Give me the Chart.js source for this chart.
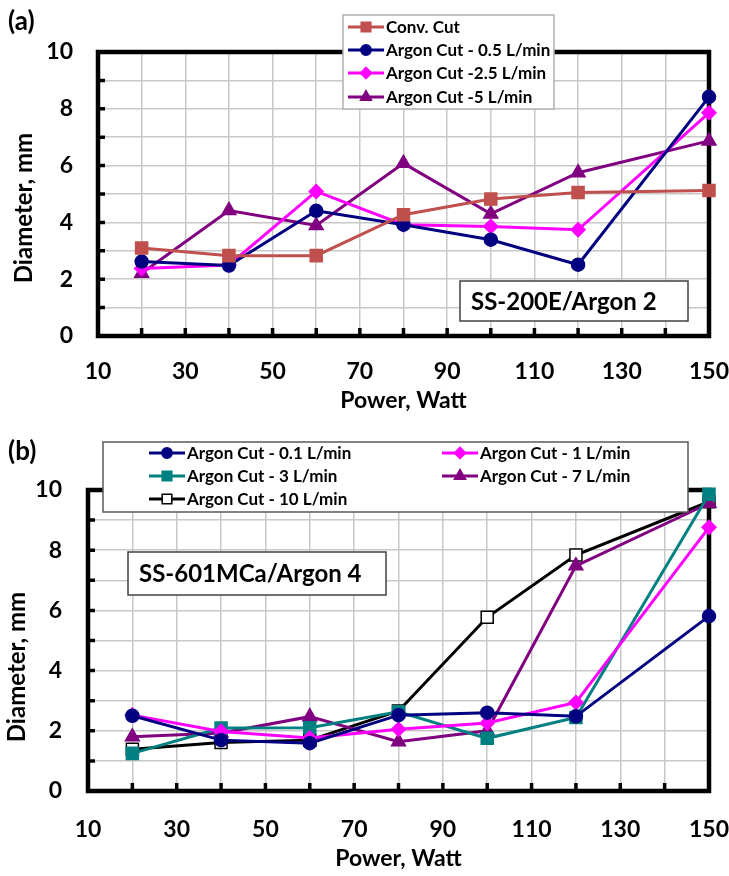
<!DOCTYPE html>
<html>
<head>
<meta charset="utf-8">
<script src="https://cdn.jsdelivr.net/npm/chart.js@4.4.1/dist/chart.umd.min.js"></script>
<style>
  body { margin: 0; background: #fff; }
  .wrap { position: absolute; left: 0; width: 729px; }
  #wrapA { top: 0; height: 420px; }
  #wrapB { top: 420px; height: 456px; }
</style>
</head>
<body>
<div class="wrap" id="wrapA"><canvas id="chartA" width="729" height="420"></canvas></div>
<div class="wrap" id="wrapB"><canvas id="chartB" width="729" height="456"></canvas></div>
<script>
// power levels (Watt)
const powerA = [20, 40, 60, 80, 100, 120, 150];
const powerB = [20, 40, 60, 80, 100, 120, 150];

// (a) SS-200E / Argon 2 - diameter in mm
const convCut  = [3.10, 2.83, 2.83, 4.27, 4.82, 5.05, 5.12];
const argon05  = [2.62, 2.48, 4.41, 3.92, 3.39, 2.51, 8.42];
const argon25  = [2.38, 2.50, 5.09, 3.92, 3.86, 3.74, 7.86];
const argon5   = [2.21, 4.42, 3.89, 6.08, 4.30, 5.75, 6.87];

// (b) SS-601MCa / Argon 4 - diameter in mm
const argon01  = [2.50, 1.69, 1.59, 2.52, 2.60, 2.48, 5.81];
const argon1   = [2.52, 1.98, 1.76, 2.05, 2.26, 2.94, 8.76];
const argon3   = [1.25, 2.09, 2.10, 2.63, 1.75, 2.44, 9.86];
const argon7   = [1.80, 1.93, 2.47, 1.64, 2.00, 7.48, 9.56];
const argon10  = [1.39, 1.61, 1.69, 2.66, 5.77, 7.84, 9.61];

const xTickLabels = [10, 30, 50, 70, 90, 110, 130, 150];
const yTickLabels = [0, 2, 4, 6, 8, 10];

const FONT = 'Lato, "Open Sans", sans-serif';

function pts(xs, ys) {
    return xs.map((x, i) => ({ x: x, y: ys[i] }));
}

function series(label, xs, ys, color, style, radius, fill) {
    return {
        label: label,
        data: pts(xs, ys),
        borderColor: color,
        backgroundColor: color,
        borderWidth: 3,
        pointStyle: style,
        pointRadius: radius,
        pointBackgroundColor: fill || color,
        pointBorderColor: color,
        pointBorderWidth: 1.5,
        tension: 0,
        clip: false
    };
}

// small marker drawer for the hand-placed legend
function drawMarker(ctx, ds, x, y, k) {
    const r = ds.pointRadius * k;
    ctx.save();
    ctx.fillStyle = ds.pointBackgroundColor;
    ctx.strokeStyle = ds.pointBorderColor;
    ctx.lineWidth = 1.5;
    ctx.beginPath();
    if (ds.pointStyle === 'rect') {
        const s = r * Math.SQRT1_2;
        ctx.rect(x - s, y - s, 2 * s, 2 * s);
    } else if (ds.pointStyle === 'rectRot') {
        ctx.moveTo(x, y - r); ctx.lineTo(x + r, y); ctx.lineTo(x, y + r); ctx.lineTo(x - r, y); ctx.closePath();
    } else if (ds.pointStyle === 'triangle') {
        ctx.moveTo(x, y - r); ctx.lineTo(x + r * 0.866, y + r * 0.5); ctx.lineTo(x - r * 0.866, y + r * 0.5); ctx.closePath();
    } else {
        ctx.arc(x, y, r, 0, Math.PI * 2);
    }
    ctx.fill();
    ctx.stroke();
    ctx.restore();
}

function makeDecor(cfg) {
    return {
        id: 'decor',
        beforeDatasetsDraw(chart) {
            const ctx = chart.ctx, a = chart.chartArea;
            const xs = chart.scales.x, ys = chart.scales.y;
            ctx.save();
            ctx.strokeStyle = '#000';
            ctx.lineWidth = 3.5;
            ctx.beginPath();
            for (let v = 20; v < 150; v += 10) {
                const px = xs.getPixelForValue(v);
                ctx.moveTo(px, a.bottom); ctx.lineTo(px, a.bottom - 8);
            }
            for (let v = 1; v < 10; v++) {
                const py = ys.getPixelForValue(v);
                ctx.moveTo(a.left, py); ctx.lineTo(a.left + 7, py);
            }
            ctx.stroke();
            ctx.lineWidth = 4.5;
            ctx.strokeRect(a.left, a.top, a.right - a.left, a.bottom - a.top);
            ctx.restore();
        },
        afterDatasetsDraw(chart) {
            const ctx = chart.ctx;
            const dsets = chart.data.datasets;
            ctx.save();
            // legend box
            const L = cfg.legend;
            ctx.fillStyle = '#fff';
            ctx.fillRect(L.x, L.y, L.w, L.h);
            ctx.strokeStyle = L.border;
            ctx.lineWidth = 1.5;
            ctx.strokeRect(L.x, L.y, L.w, L.h);
            ctx.font = L.font;
            ctx.textBaseline = 'middle';
            ctx.textAlign = 'left';
            L.items.forEach(it => {
                const ds = dsets[it.i];
                ctx.strokeStyle = ds.borderColor;
                ctx.lineWidth = 3;
                ctx.beginPath();
                ctx.moveTo(it.x, it.y); ctx.lineTo(it.x + 36, it.y);
                ctx.stroke();
                drawMarker(ctx, ds, it.x + 18, it.y, 0.8);
                ctx.fillStyle = '#000';
                ctx.fillText(ds.label, it.x + 38, it.y + 1);
            });
            // sample label box
            const B = cfg.box;
            ctx.fillStyle = '#fff';
            ctx.fillRect(B.x, B.y, B.w, B.h);
            ctx.strokeStyle = '#404040';
            ctx.lineWidth = 1.5;
            ctx.strokeRect(B.x, B.y, B.w, B.h);
            ctx.fillStyle = '#000';
            ctx.font = 'bold 24px ' + FONT;
            ctx.fillText(B.text, B.x + 11, B.y + B.h / 2 + 1);
            // panel letter
            ctx.font = 'bold 26px ' + FONT;
            ctx.fillText(cfg.panel.text, cfg.panel.x, cfg.panel.y);
            // y axis title
            ctx.save();
            ctx.translate(cfg.yTitle.x, cfg.yTitle.y);
            ctx.rotate(-Math.PI / 2);
            ctx.textAlign = 'center';
            ctx.font = 'bold 24px ' + FONT;
            ctx.fillText('Diameter, mm', 0, 0);
            ctx.restore();
            ctx.restore();
        }
    };
}

function buildChart(canvasId, datasets, lay, decor) {
    const ctx = document.getElementById(canvasId).getContext('2d');
    return new Chart(ctx, {
        type: 'line',
        data: { datasets: datasets },
        options: {
            responsive: false,
            animation: false,
            layout: { padding: { top: lay.top, right: 0, bottom: 0, left: 0 } },
            plugins: { legend: { display: false }, tooltip: { enabled: false } },
            scales: {
                x: {
                    type: 'linear',
                    min: 10,
                    max: 150,
                    afterFit: function(s) {
                        s.height = lay.xHeight;
                        s.paddingRight = 20;
                        s.paddingLeft = 0;
                    },
                    border: { display: false },
                    grid: { color: '#c8c8c8', lineWidth: 1.5, drawTicks: false },
                    ticks: {
                        stepSize: 10,
                        autoSkip: false,
                        maxRotation: 0,
                        padding: lay.xPad,
                        color: '#000',
                        font: { family: FONT, size: 23, weight: 'bold' },
                        callback: function(v) { return xTickLabels.includes(v) ? v : ''; }
                    },
                    title: {
                        display: true,
                        text: 'Power, Watt',
                        color: '#000',
                        font: { family: FONT, size: 23, weight: 'bold' },
                        padding: { top: 0, bottom: lay.xTitlePad }
                    }
                },
                y: {
                    min: 0,
                    max: 10,
                    afterFit: function(s) { s.width = lay.yWidth; },
                    border: { display: false },
                    grid: { color: '#c8c8c8', lineWidth: 1.5, drawTicks: false },
                    ticks: {
                        stepSize: 1,
                        autoSkip: false,
                        padding: lay.yPad,
                        color: '#000',
                        font: { family: FONT, size: 23, weight: 'bold' },
                        callback: function(v) { return yTickLabels.includes(v) ? v : ''; }
                    }
                }
            }
        },
        plugins: [makeDecor(decor)]
    });
}

// chart (a)
buildChart('chartA', [
    series('Conv. Cut', powerA, convCut, '#C0504D', 'rect', 8.5),
    series('Argon Cut - 0.5 L/min', powerA, argon05, '#000080', 'circle', 6.5),
    series('Argon Cut -2.5 L/min', powerA, argon25, '#FF00FF', 'rectRot', 7),
    series('Argon Cut -5 L/min', powerA, argon5, '#800080', 'triangle', 8)
], { top: 52, xHeight: 84, xPad: 22, xTitlePad: 6, yWidth: 98, yPad: 25 }, {
    legend: {
        x: 343, y: 15, w: 211, h: 94, border: '#b0b0b0',
        font: 'bold 17px ' + FONT,
        items: [
            { i: 0, x: 348, y: 27 },
            { i: 1, x: 348, y: 50 },
            { i: 2, x: 348, y: 73 },
            { i: 3, x: 348, y: 97 }
        ]
    },
    box: { x: 460, y: 281, w: 228, h: 40, text: 'SS-200E/Argon 2' },
    panel: { text: '(a)', x: 8, y: 22 },
    yTitle: { x: 24, y: 208 }
});

// chart (b)
buildChart('chartB', [
    series('Argon Cut - 0.1 L/min', powerB, argon01, '#000080', 'circle', 6.5),
    series('Argon Cut - 1 L/min', powerB, argon1, '#FF00FF', 'rectRot', 7),
    series('Argon Cut - 3 L/min', powerB, argon3, '#008080', 'rect', 8.5),
    series('Argon Cut - 7 L/min', powerB, argon7, '#800080', 'triangle', 8),
    series('Argon Cut - 10 L/min', powerB, argon10, '#000000', 'rect', 8.5, '#ffffff')
], { top: 70, xHeight: 85, xPad: 25, xTitlePad: 4, yWidth: 88, yPad: 26 }, {
    legend: {
        x: 103, y: 22, w: 585, h: 70, border: '#595959',
        font: 'bold 17px ' + FONT,
        items: [
            { i: 0, x: 149, y: 33 },
            { i: 1, x: 442, y: 33 },
            { i: 2, x: 149, y: 56 },
            { i: 3, x: 442, y: 56 },
            { i: 4, x: 149, y: 79 }
        ]
    },
    box: { x: 128, y: 132, w: 258, h: 43, text: 'SS-601MCa/Argon 4' },
    panel: { text: '(b)', x: 8, y: 32 },
    yTitle: { x: 17, y: 247 }
});
</script>
</body>
</html>
